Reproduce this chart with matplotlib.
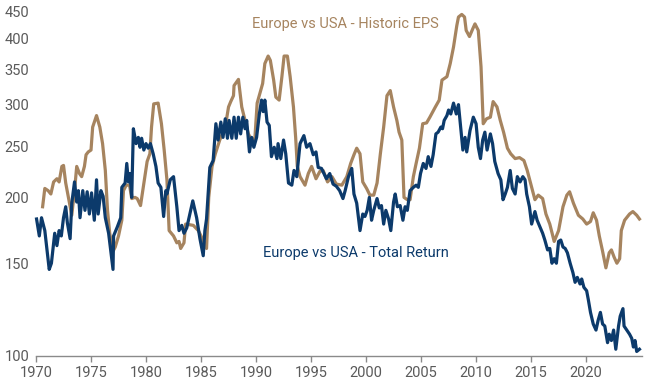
import numpy as np
import matplotlib
matplotlib.use("Agg")
import matplotlib.pyplot as plt
from matplotlib.ticker import FixedLocator, NullLocator

plt.rcParams['font.family'] = ['Roboto', 'DejaVu Sans']

# Europe vs USA - Total Return
tr_year = [1970.05, 1970.3, 1970.5, 1970.8, 1971.2, 1971.4, 1971.7, 1971.9, 1972.1, 1972.3,
           1972.5, 1972.7, 1972.85, 1973.1, 1973.25, 1973.5, 1973.7, 1973.85, 1974.0, 1974.25,
           1974.45, 1974.65, 1974.85, 1975.05, 1975.3, 1975.5, 1975.65, 1975.9, 1976.1, 1976.3,
           1976.6, 1977.0, 1977.05, 1977.4, 1977.7, 1977.8, 1978.1, 1978.25, 1978.4, 1978.55,
           1978.7, 1978.85, 1979.1, 1979.3, 1979.45, 1979.6, 1979.8, 1980.0, 1980.2, 1980.4,
           1980.65, 1980.9, 1981.1, 1981.35, 1981.6, 1981.8, 1981.9, 1982.2, 1982.5, 1982.8,
           1983.0, 1983.25, 1983.45, 1983.7, 1984.25, 1984.6, 1984.9, 1985.2, 1985.35, 1985.5,
           1985.8, 1986.1, 1986.35, 1986.55, 1986.8, 1987.0, 1987.2, 1987.4, 1987.55, 1987.8,
           1988.0, 1988.2, 1988.4, 1988.6, 1988.8, 1989.0, 1989.15, 1989.4, 1989.6, 1989.8,
           1990.05, 1990.3, 1990.5, 1990.65, 1990.8, 1991.0, 1991.2, 1991.4, 1991.65, 1991.9,
           1992.0, 1992.25, 1992.5, 1992.7, 1992.95, 1993.25, 1993.45, 1993.7, 1994.0, 1994.35,
           1994.6, 1994.9, 1995.2, 1995.45, 1995.65, 1995.95, 1996.4, 1996.7, 1997.0, 1997.3,
           1997.6, 1997.9, 1998.1, 1998.4, 1998.7, 1998.9, 1999.15, 1999.45, 1999.7, 1999.9,
           2000.1, 2000.3, 2000.5, 2000.7, 2001.0, 2001.2, 2001.4, 2001.6, 2001.8, 2002.05,
           2002.25, 2002.5, 2002.65, 2002.85, 2003.1, 2003.35, 2003.55, 2003.75, 2004.0, 2004.3,
           2004.55, 2004.75, 2004.95, 2005.2, 2005.45, 2005.65, 2005.9, 2006.1, 2006.35, 2006.55,
           2006.8, 2006.95, 2007.1, 2007.35, 2007.5, 2007.7, 2007.95, 2008.2, 2008.4, 2008.6,
           2008.8, 2009.0, 2009.15, 2009.45, 2009.75, 2010.0, 2010.2, 2010.4, 2010.6, 2010.8,
           2011.0, 2011.3, 2011.5, 2011.7, 2012.0, 2012.25, 2012.45, 2012.65, 2012.85, 2013.1,
           2013.3, 2013.55, 2013.75, 2014.0, 2014.25, 2014.45, 2014.6, 2014.85, 2015.05, 2015.35,
           2015.55, 2015.8, 2016.05, 2016.25, 2016.5, 2016.7, 2016.9, 2017.1, 2017.3, 2017.5,
           2017.7, 2017.9, 2018.1, 2018.3, 2018.55, 2018.8, 2019.0, 2019.2, 2019.45, 2019.6,
           2019.8, 2020.05, 2020.2, 2020.4, 2020.65, 2020.9, 2021.1, 2021.3, 2021.5, 2021.7,
           2021.95, 2022.1, 2022.3, 2022.5, 2022.7, 2022.95, 2023.1, 2023.35, 2023.45, 2023.7,
           2023.95, 2024.15, 2024.3, 2024.45, 2024.6, 2024.85]
tr_val = [182, 169, 183, 173, 146, 150, 171, 162, 173, 169,
          183, 192, 179, 167, 195, 214, 196, 206, 183, 206,
          189, 205, 186, 204, 181, 216, 186, 206, 201, 183,
          171, 146, 169, 176, 183, 209, 213, 232, 214, 222,
          200, 270, 253, 260, 249, 259, 246, 253, 248, 253,
          242, 229, 213, 209, 184, 206, 203, 216, 219, 192,
          173, 177, 171, 175, 197, 183, 167, 155, 173, 182,
          228, 235, 276, 257, 278, 260, 282, 259, 280, 259,
          284, 259, 284, 264, 284, 270, 280, 244, 260, 249,
          260, 288, 306, 291, 306, 278, 274, 239, 249, 237,
          253, 237, 257, 242, 213, 211, 225, 219, 253, 262,
          249, 253, 241, 244, 228, 227, 217, 222, 212, 210,
          206, 199, 206, 219, 227, 203, 195, 173, 186, 184,
          189, 200, 181, 189, 199, 191, 193, 178, 189, 182,
          173, 196, 203, 192, 193, 181, 192, 189, 206, 209,
          211, 209, 222, 232, 227, 239, 229, 241, 264, 266,
          272, 270, 280, 286, 293, 288, 302, 288, 300, 272,
          246, 260, 244, 268, 284, 276, 249, 237, 257, 266,
          246, 264, 253, 234, 222, 216, 198, 203, 209, 225,
          208, 203, 219, 214, 219, 216, 203, 192, 178, 188,
          181, 176, 171, 166, 159, 160, 150, 153, 150, 165,
          166, 161, 160, 157, 150, 144, 138, 141, 137, 140,
          135, 133, 128, 121, 115, 112, 117, 121, 115, 114,
          106, 110, 107, 112, 103, 114, 119, 123, 114, 112,
          110, 108, 104, 107, 102, 103]

# Europe vs USA - Historic EPS
eps_year = [1970.6, 1970.8, 1971.1, 1971.35, 1971.6, 1971.9, 1972.1, 1972.35, 1972.5, 1972.7,
            1972.95, 1973.25, 1973.5, 1973.7, 1973.95, 1974.15, 1974.4, 1974.55, 1974.75, 1975.0,
            1975.15, 1975.3, 1975.5, 1975.8, 1976.05, 1976.3, 1976.5, 1976.7, 1977.0, 1977.2,
            1977.5, 1977.8, 1977.95, 1978.2, 1978.5, 1978.7, 1979.0, 1979.2, 1979.5, 1979.7,
            1979.9, 1980.1, 1980.35, 1980.5, 1980.7, 1981.1, 1981.4, 1981.65, 1981.9, 1982.1,
            1982.5, 1982.8, 1983.0, 1983.15, 1983.45, 1983.6, 1984.3, 1984.75, 1985.0, 1985.5,
            1985.7, 1986.0, 1986.3, 1986.7, 1987.2, 1987.5, 1987.7, 1987.95, 1988.0, 1988.4,
            1988.7, 1989.0, 1989.3, 1989.7, 1989.9, 1990.1, 1990.35, 1990.6, 1990.8, 1991.1,
            1991.3, 1991.6, 1991.8, 1992.1, 1992.35, 1992.55, 1992.85, 1993.1, 1993.4, 1993.6,
            1993.75, 1994.0, 1994.45, 1994.75, 1995.05, 1995.45, 1995.8, 1996.1, 1996.5, 1996.9,
            1997.3, 1997.8, 1998.25, 1998.6, 1998.9, 1999.15, 1999.45, 1999.7, 2000.05, 2000.35,
            2000.7, 2001.0, 2001.3, 2001.6, 2001.9, 2002.2, 2002.5, 2002.8, 2003.0, 2003.25,
            2003.45, 2003.75, 2004.0, 2004.3, 2004.55, 2004.85, 2005.15, 2005.5, 2005.8, 2006.3,
            2006.65, 2006.9, 2007.35, 2007.65, 2007.95, 2008.25, 2008.4, 2008.7, 2008.95, 2009.1,
            2009.4, 2009.7, 2009.9, 2010.2, 2010.45, 2010.65, 2010.95, 2011.3, 2011.55, 2011.9,
            2012.2, 2012.5, 2012.85, 2013.15, 2013.55, 2013.95, 2014.35, 2014.65, 2015.05, 2015.35,
            2015.65, 2016.05, 2016.35, 2016.7, 2017.1, 2017.5, 2017.9, 2018.25, 2018.5, 2018.85,
            2019.3, 2019.7, 2020.05, 2020.4, 2020.65, 2020.95, 2021.2, 2021.5, 2021.8, 2022.1,
            2022.3, 2022.55, 2022.8, 2023.05, 2023.2, 2023.5, 2023.95, 2024.25, 2024.6, 2024.85]
eps_val = [192, 208, 206, 203, 214, 217, 214, 229, 230, 213,
           200, 185, 206, 229, 222, 219, 229, 241, 244, 246,
           272, 278, 286, 272, 253, 225, 189, 171, 158, 161,
           169, 181, 206, 211, 211, 199, 200, 199, 193, 206,
           220, 234, 242, 272, 301, 302, 276, 246, 216, 173,
           169, 164, 165, 160, 164, 178, 177, 173, 169, 160,
           200, 229, 242, 257, 272, 297, 304, 312, 326, 335,
           297, 280, 264, 255, 260, 302, 315, 329, 359, 371,
           364, 334, 310, 306, 339, 371, 371, 339, 297, 260,
           229, 219, 211, 222, 229, 217, 224, 225, 214, 219,
           212, 211, 219, 232, 241, 248, 242, 214, 208, 202,
           202, 213, 242, 272, 312, 319, 297, 280, 266, 257,
           200, 198, 198, 219, 232, 248, 276, 277, 284, 297,
           306, 334, 339, 359, 386, 424, 440, 445, 440, 415,
           404, 418, 427, 415, 354, 276, 282, 284, 304, 297,
           280, 266, 248, 242, 237, 238, 235, 225, 209, 198,
           202, 199, 186, 178, 165, 173, 192, 202, 205, 195,
           185, 182, 178, 180, 187, 181, 169, 158, 147, 157,
           159, 154, 150, 153, 173, 181, 186, 188, 185, 182]

navy = '#0c3a6b'
tan = '#a6845f'
grey = '#5a5a5a'

fig = plt.figure(figsize=(6.5, 3.83), dpi=100)
ax = fig.add_axes([0.0554, 0.0705, 0.9326, 0.8985])

ax.plot(eps_year, eps_val, color=tan, lw=2.3, solid_joinstyle='round', clip_on=False)
ax.plot(tr_year, tr_val, color=navy, lw=2.3, solid_joinstyle='round', clip_on=False)

ax.set_yscale('log')
ax.set_ylim(100, 450)
ax.set_xlim(1970, 2025.1)

yt = [100, 150, 200, 250, 300, 350, 400, 450]
ax.yaxis.set_major_locator(FixedLocator(yt))
ax.yaxis.set_minor_locator(NullLocator())
ax.set_yticklabels([str(v) for v in yt])
ax.set_xticks(np.arange(1970, 2021, 5))

for s in ['top', 'right', 'left']:
    ax.spines[s].set_visible(False)
ax.spines['bottom'].set_color('#8a8a8a')
ax.spines['bottom'].set_linewidth(1.0)

ax.tick_params(axis='y', length=0, pad=5, labelsize=10.5, labelcolor=grey)
ax.tick_params(axis='x', length=4, width=1.0, color='#8a8a8a', pad=3,
               labelsize=10.5, labelcolor=grey)

ax.text(1998.1, 426, 'Europe vs USA - Historic EPS', color=tan, fontsize=10.5,
        ha='center', va='center')
ax.text(1999.1, 157, 'Europe vs USA - Total Return', color=navy, fontsize=10.5,
        ha='center', va='center')

fig.savefig('out.png', dpi=100)
